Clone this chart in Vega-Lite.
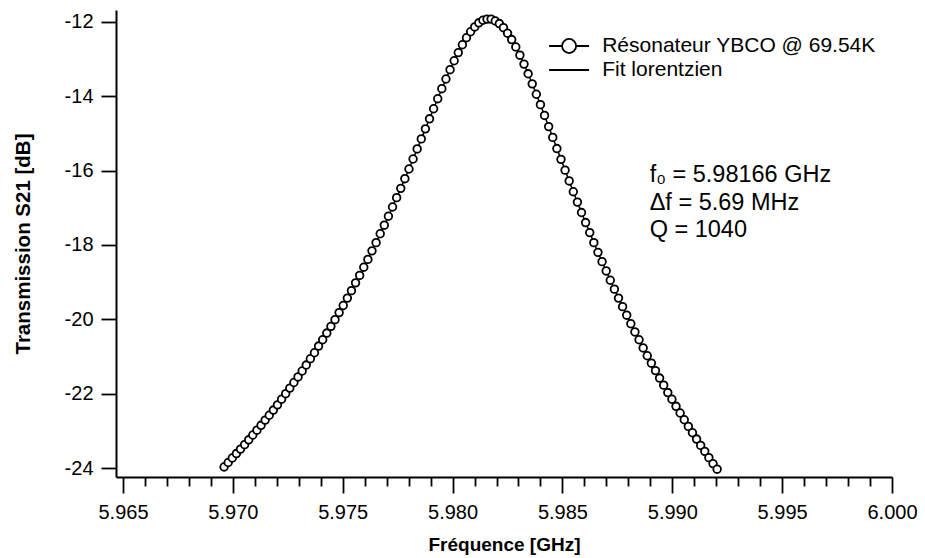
{
  "$schema": "https://vega.github.io/schema/vega-lite/v6.json",
  "width": 776,
  "height": 467,
  "autosize": "none",
  "padding": {"left": 116, "top": 10, "right": 33, "bottom": 81},
  "background": "white",
  "config": {"view": {"stroke": null}, "font": "Liberation Sans"},
  "data": {"values": [
    {"f":5.969600,"s21":-23.97},{"f":5.969787,"s21":-23.85},{"f":5.969974,"s21":-23.73},{"f":5.970161,"s21":-23.61},
    {"f":5.970348,"s21":-23.49},{"f":5.970535,"s21":-23.37},{"f":5.970722,"s21":-23.24},{"f":5.970909,"s21":-23.11},
    {"f":5.971096,"s21":-22.98},{"f":5.971283,"s21":-22.85},{"f":5.971470,"s21":-22.71},{"f":5.971657,"s21":-22.58},
    {"f":5.971844,"s21":-22.44},{"f":5.972031,"s21":-22.30},{"f":5.972218,"s21":-22.15},{"f":5.972405,"s21":-22.00},
    {"f":5.972592,"s21":-21.85},{"f":5.972779,"s21":-21.70},{"f":5.972966,"s21":-21.55},{"f":5.973153,"s21":-21.39},
    {"f":5.973340,"s21":-21.23},{"f":5.973527,"s21":-21.06},{"f":5.973714,"s21":-20.90},{"f":5.973901,"s21":-20.72},
    {"f":5.974088,"s21":-20.55},{"f":5.974275,"s21":-20.37},{"f":5.974462,"s21":-20.19},{"f":5.974649,"s21":-20.01},
    {"f":5.974836,"s21":-19.82},{"f":5.975023,"s21":-19.63},{"f":5.975210,"s21":-19.43},{"f":5.975397,"s21":-19.23},
    {"f":5.975584,"s21":-19.02},{"f":5.975771,"s21":-18.82},{"f":5.975958,"s21":-18.60},{"f":5.976145,"s21":-18.39},
    {"f":5.976332,"s21":-18.16},{"f":5.976519,"s21":-17.94},{"f":5.976706,"s21":-17.70},{"f":5.976893,"s21":-17.47},
    {"f":5.977080,"s21":-17.23},{"f":5.977267,"s21":-16.98},{"f":5.977454,"s21":-16.73},{"f":5.977641,"s21":-16.48},
    {"f":5.977828,"s21":-16.22},{"f":5.978015,"s21":-15.96},{"f":5.978202,"s21":-15.69},{"f":5.978389,"s21":-15.42},
    {"f":5.978576,"s21":-15.15},{"f":5.978763,"s21":-14.88},{"f":5.978950,"s21":-14.61},{"f":5.979137,"s21":-14.34},
    {"f":5.979324,"s21":-14.07},{"f":5.979511,"s21":-13.80},{"f":5.979698,"s21":-13.54},{"f":5.979885,"s21":-13.29},
    {"f":5.980072,"s21":-13.05},{"f":5.980259,"s21":-12.83},{"f":5.980446,"s21":-12.62},{"f":5.980633,"s21":-12.43},
    {"f":5.980820,"s21":-12.27},{"f":5.981007,"s21":-12.14},{"f":5.981194,"s21":-12.03},{"f":5.981381,"s21":-11.96},
    {"f":5.981568,"s21":-11.93},{"f":5.981755,"s21":-11.93},{"f":5.981942,"s21":-11.98},{"f":5.982129,"s21":-12.05},
    {"f":5.982316,"s21":-12.16},{"f":5.982503,"s21":-12.31},{"f":5.982690,"s21":-12.48},{"f":5.982877,"s21":-12.68},
    {"f":5.983064,"s21":-12.90},{"f":5.983251,"s21":-13.14},{"f":5.983438,"s21":-13.40},{"f":5.983625,"s21":-13.67},
    {"f":5.983812,"s21":-13.95},{"f":5.983999,"s21":-14.23},{"f":5.984186,"s21":-14.52},{"f":5.984373,"s21":-14.82},
    {"f":5.984560,"s21":-15.11},{"f":5.984747,"s21":-15.41},{"f":5.984934,"s21":-15.70},{"f":5.985121,"s21":-15.99},
    {"f":5.985308,"s21":-16.28},{"f":5.985495,"s21":-16.57},{"f":5.985682,"s21":-16.85},{"f":5.985869,"s21":-17.13},
    {"f":5.986056,"s21":-17.40},{"f":5.986243,"s21":-17.67},{"f":5.986430,"s21":-17.94},{"f":5.986617,"s21":-18.20},
    {"f":5.986804,"s21":-18.45},{"f":5.986991,"s21":-18.70},{"f":5.987178,"s21":-18.95},{"f":5.987365,"s21":-19.19},
    {"f":5.987552,"s21":-19.43},{"f":5.987739,"s21":-19.66},{"f":5.987926,"s21":-19.89},{"f":5.988113,"s21":-20.12},
    {"f":5.988300,"s21":-20.34},{"f":5.988487,"s21":-20.55},{"f":5.988674,"s21":-20.77},{"f":5.988861,"s21":-20.98},
    {"f":5.989048,"s21":-21.18},{"f":5.989235,"s21":-21.38},{"f":5.989422,"s21":-21.58},{"f":5.989609,"s21":-21.77},
    {"f":5.989796,"s21":-21.97},{"f":5.989983,"s21":-22.15},{"f":5.990170,"s21":-22.34},{"f":5.990357,"s21":-22.52},
    {"f":5.990544,"s21":-22.70},{"f":5.990731,"s21":-22.88},{"f":5.990918,"s21":-23.05},{"f":5.991105,"s21":-23.22},
    {"f":5.991292,"s21":-23.39},{"f":5.991479,"s21":-23.55},{"f":5.991666,"s21":-23.72},{"f":5.991853,"s21":-23.88},
    {"f":5.992040,"s21":-24.03}
  ]},
  "resolve": {"axis": {"x": "independent"}},
  "layer": [
    {
      "mark": {"type": "line", "strokeWidth": 1.5},
      "encoding": {
        "x": {
          "field": "f", "type": "quantitative",
          "scale": {"domain": [5.964681, 6.0], "nice": false, "zero": false},
          "axis": {
            "orient": "bottom",
            "values": [5.965, 5.970, 5.975, 5.980, 5.985, 5.990, 5.995, 6.000],
            "tickCount": 100,
            "format": ".3f",
            "labelOverlap": false,
            "labelFlush": false,
            "tickSize": 16, "tickColor": "black", "tickWidth": 1.8,
            "domainColor": "black", "domainWidth": 2,
            "labelFontSize": 20, "labelColor": "black", "labelPadding": 9,
            "title": "Fréquence [GHz]", "titleFontSize": 19, "titleFontWeight": "bold", "titleColor": "black", "titlePadding": 13,
            "grid": false
          }
        },
        "y": {
          "field": "s21", "type": "quantitative",
          "scale": {"domain": [-24.24, -11.685], "nice": false, "zero": false},
          "axis": {
            "values": [-24,-22,-20,-18,-16,-14,-12],
            "labelExpr": "'' + datum.value",
            "tickSize": 15, "tickColor": "black", "tickWidth": 1.8,
            "domainColor": "black", "domainWidth": 2,
            "labelFontSize": 20, "labelColor": "black", "labelPadding": 8,
            "title": "Transmission S21 [dB]", "titleFontSize": 20.5, "titleFontWeight": "bold", "titleColor": "black", "titlePadding": 31,
            "grid": false
          }
        },
        "color": {
          "datum": "Fit lorentzien", "type": "nominal",
          "scale": {"domain": ["Fit lorentzien"], "range": ["black"]},
          "legend": {
            "title": null,
            "orient": "none", "legendX": 442.6, "legendY": 49.5,
            "padding": 0,
            "labelFont": "Liberation Sans", "labelFontSize": 21, "labelColor": "black", "labelLimit": 0,
            "labelOffset": 22.6,
            "symbolType": "M-2.7,0H2.7",
            "symbolSize": 219, "symbolStrokeWidth": 1.8, "symbolStrokeColor": "black", "symbolFillColor": "transparent", "symbolOpacity": 1
          }
        }
      }
    },
    {
      "mark": {"type": "point", "filled": true, "fill": "white", "strokeWidth": 1.8, "size": 58, "opacity": 1},
      "encoding": {
        "x": {
          "field": "f", "type": "quantitative",
          "axis": {
            "orient": "bottom",
            "values": [5.966,5.967,5.968,5.969,5.971,5.972,5.973,5.974,5.976,5.977,5.978,5.979,5.981,5.982,5.983,5.984,5.986,5.987,5.988,5.989,5.991,5.992,5.993,5.994,5.996,5.997,5.998,5.999],
            "tickCount": 100,
            "labels": false, "domain": false, "title": null, "grid": false,
            "tickSize": 9, "tickColor": "black", "tickWidth": 1.8
          }
        },
        "y": {"field": "s21", "type": "quantitative"},
        "stroke": {
          "datum": "Résonateur YBCO @ 69.54K", "type": "nominal",
          "scale": {"domain": ["Résonateur YBCO @ 69.54K"], "range": ["black"]},
          "legend": {
            "title": null,
            "orient": "none", "legendX": 442.6, "legendY": 25.5,
            "padding": 0,
            "labelFont": "Liberation Sans", "labelFontSize": 21, "labelColor": "black", "labelLimit": 0,
            "labelOffset": 22.6,
            "symbolType": "M-2.7,0H-0.95M0.95,0A0.95,0.95 0 1,1 -0.95,0A0.95,0.95 0 1,1 0.95,0M0.95,0H2.7",
            "symbolSize": 219, "symbolStrokeWidth": 1.8, "symbolFillColor": "white", "symbolOpacity": 1
          }
        }
      }
    },
    {
      "data": {"values": [{"note": "f₀ = 5.98166 GHz\nΔf = 5.69 MHz\nQ = 1040"}]},
      "mark": {"type": "text", "lineBreak": "\n", "align": "left", "baseline": "alphabetic", "fontSize": 23.5, "lineHeight": 27.5, "color": "black", "font": "Liberation Sans"},
      "encoding": {
        "x": {"datum": 5.98897, "type": "quantitative", "axis": null},
        "y": {"datum": -16.31, "type": "quantitative"},
        "text": {"field": "note"}
      }
    }
  ]
}
